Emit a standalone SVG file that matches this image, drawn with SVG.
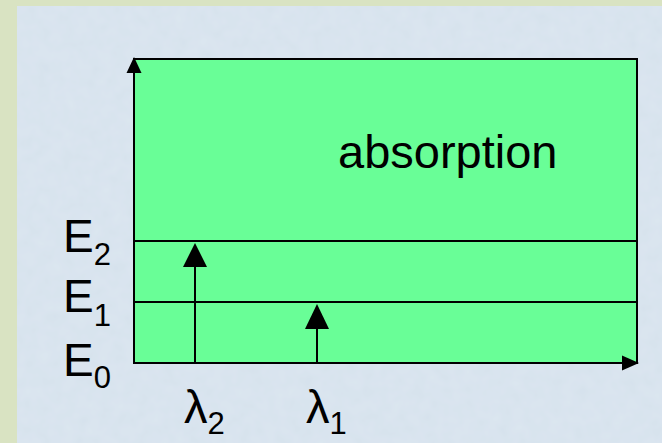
<svg xmlns="http://www.w3.org/2000/svg" width="662" height="443" viewBox="0 0 662 443">
<style>
.lbl{font-family:"Liberation Sans",Arial,sans-serif;fill:#000}
.big{font-size:46px}
.sub{font-size:31px}
.ln{stroke:#000;stroke-width:2;fill:none}
.ah{fill:#000}
</style>
<defs>
<filter id="tex" x="0" y="0" width="100%" height="100%">
<feTurbulence type="fractalNoise" baseFrequency="0.08" numOctaves="2" seed="3" result="n"/>
<feColorMatrix in="n" type="matrix" values="0 0 0 0 0.80  0 0 0 0 0.86  0 0 0 0 0.93  0 0 0 0.55 0" result="c"/>
<feComposite in="c" in2="SourceGraphic" operator="atop"/>
</filter>
</defs>
<rect x="0" y="0" width="662" height="443" fill="#d9e3c2"/>
<rect x="17" y="6" width="645" height="437" fill="#d6e2ed"/>
<rect x="17" y="6" width="645" height="437" fill="#d6e2ed" filter="url(#tex)" opacity="0.7"/>
<g id="panel">
<rect x="134" y="59" width="503" height="304" fill="#69fe97" stroke="#000" stroke-width="2"/>
</g>
<g id="levels">
<line class="ln" x1="134" y1="241" x2="637" y2="241"/>
<line class="ln" x1="134" y1="302" x2="637" y2="302"/>
</g>
<g id="connectors">
<line class="ln" x1="134" y1="363" x2="134" y2="70"/>
<polygon class="ah" points="134,57 126.5,73 141.5,73"/>
<line class="ln" x1="134" y1="363" x2="626" y2="363"/>
<polygon class="ah" points="639,363 622,355.5 622,370.5"/>
<line class="ln" x1="195" y1="363" x2="195" y2="262"/>
<polygon class="ah" points="195,243 183,267 207,267"/>
<line class="ln" x1="317" y1="363" x2="317" y2="324"/>
<polygon class="ah" points="317,304 305,329 329,329"/>
</g>
<g id="absorption">
<text class="lbl" x="338" y="168" font-size="47">absorption</text>
</g>
<g id="E2"><text class="lbl big" x="63" y="252">E<tspan class="sub" y="265">2</tspan></text></g>
<g id="E1"><text class="lbl big" x="63" y="312">E<tspan class="sub" y="326">1</tspan></text></g>
<g id="E0"><text class="lbl big" x="63" y="376">E<tspan class="sub" y="388">0</tspan></text></g>
<g id="lambda2"><text class="lbl" x="184" y="423" font-size="47">λ<tspan class="sub" y="434">2</tspan></text></g>
<g id="lambda1"><text class="lbl" x="306" y="423" font-size="47">λ<tspan class="sub" y="434">1</tspan></text></g>
</svg>
